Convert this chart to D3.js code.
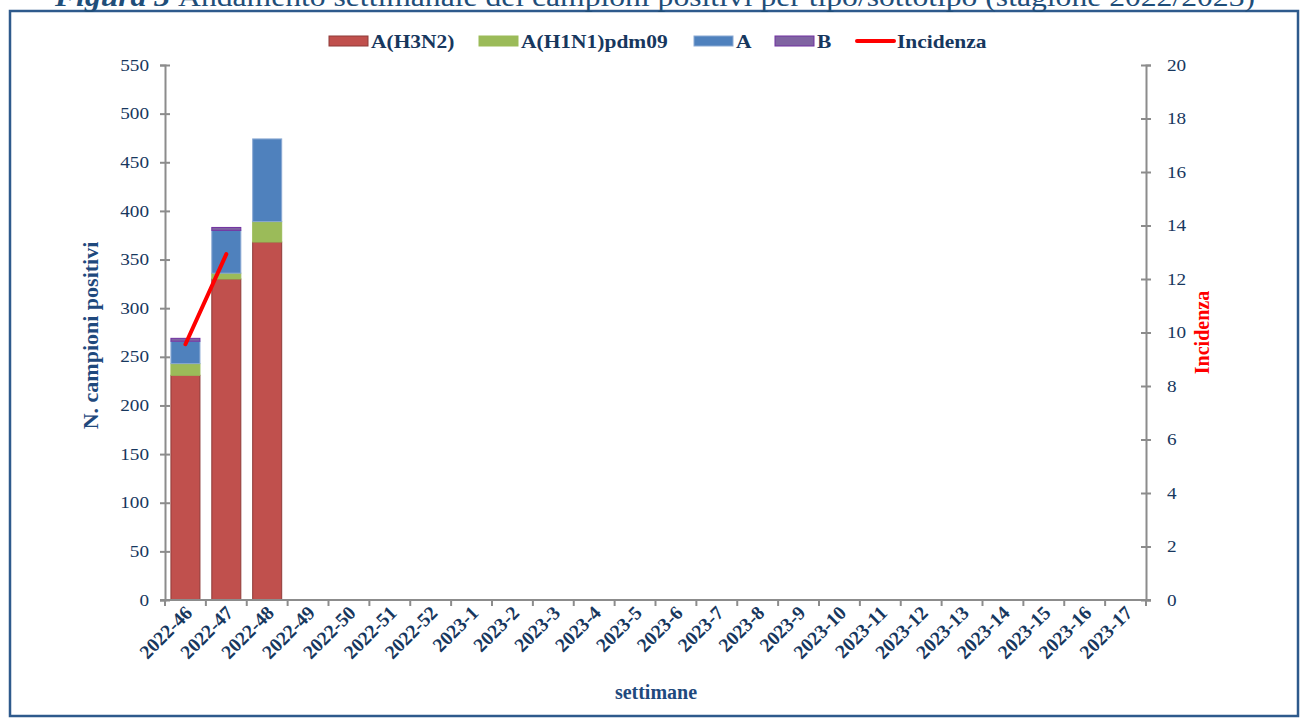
<!DOCTYPE html>
<html><head><meta charset="utf-8">
<script src="https://cdn.jsdelivr.net/npm/d3@7"></script>
<style>
html,body{margin:0;padding:0;background:#fff;}
svg{display:block;font-family:"Liberation Serif","Times New Roman",serif;}
</style></head>
<body>
<svg id="c" width="1303" height="719"></svg>
<script>
const weeks = ["2022-46","2022-47","2022-48","2022-49","2022-50","2022-51","2022-52",
  "2023-1","2023-2","2023-3","2023-4","2023-5","2023-6","2023-7","2023-8","2023-9",
  "2023-10","2023-11","2023-12","2023-13","2023-14","2023-15","2023-16","2023-17"];
const h3n2 = [231, 330, 368];
const h1n1 = [12, 6, 21];
const aNs  = [23, 44, 85];
const bVals = [3, 3, 0];
const incidenza = [9.56, 12.93];
const leftTicks = [0,50,100,150,200,250,300,350,400,450,500,550];
const rightTicks = [0,2,4,6,8,10,12,14,16,18,20];
const seriesNames = ["A(H3N2)","A(H1N1)pdm09","A","B"];
const seriesColors = ["#C0504D","#9BBB59","#4F81BD","#8064A2"];
const seriesStroke = ["#8E3B38","#9BBB59","#8AA9D3","#7030A0"];

const svg = d3.select("#c");
const txtCol = "#17375E";
const axisCol = "#8C8C8C";

function stretch(sel, k){
  sel.each(function(){
    const len = this.getComputedTextLength();
    d3.select(this).attr("textLength", len*k).attr("lengthAdjust","spacingAndGlyphs");
  });
}

// frame
svg.append("rect").attr("x",10).attr("y",11).attr("width",1288).attr("height",705)
  .attr("fill","none").attr("stroke","#2E5A8C").attr("stroke-width",2.5);

// title (partially cut at top, as in the reference)
const title = svg.append("text").attr("x",655).attr("y",6).attr("text-anchor","middle")
  .attr("font-size",28).attr("fill","#1F4E79");
title.append("tspan").attr("font-weight","bold").attr("font-style","italic").text("Figura 3 ");
title.append("tspan").text("Andamento settimanale dei campioni positivi per tipo/sottotipo (stagione 2022/2023)");
title.attr("textLength",1200).attr("lengthAdjust","spacingAndGlyphs");

const L = 165, R = 1146, T = 65, B = 600;
const x = d3.scaleBand().domain(weeks).range([L,R]).paddingInner(0.29).paddingOuter(0.145);
const xb = d3.scaleBand().domain(weeks).range([L,R]).padding(0);
const yL = d3.scaleLinear().domain([0,550]).range([B,T]);
const yR = d3.scaleLinear().domain([0,20]).range([B,T]);

// stacked data
const rows = weeks.map((w,i)=>({week:w, s0:h3n2[i]||0, s1:h1n1[i]||0, s2:aNs[i]||0, s3:bVals[i]||0}));
const stack = d3.stack().keys(["s0","s1","s2","s3"])(rows);
const g = svg.append("g");
stack.forEach((layer,li)=>{
  g.selectAll(null).data(layer.filter(d=>d[1]-d[0]>0)).enter().append("rect")
    .attr("x",d=>x(d.data.week)).attr("width",x.bandwidth())
    .attr("y",d=>yL(d[1])).attr("height",d=>yL(d[0])-yL(d[1]))
    .attr("fill",seriesColors[li]).attr("stroke",seriesStroke[li]).attr("stroke-width",1);
});

// left axis
const axL = svg.append("g").attr("transform",`translate(${L},0)`)
  .call(d3.axisLeft(yL).tickValues(leftTicks).tickSize(5).tickPadding(11));
axL.select(".domain").attr("stroke",axisCol).attr("stroke-width",2);
axL.selectAll(".tick line").attr("stroke",axisCol).attr("stroke-width",2).attr("x2",5).attr("x1",-5);
axL.selectAll(".tick text").attr("fill",txtCol).attr("font-size",16).attr("font-family","Liberation Serif");
stretch(axL.selectAll(".tick text"),1.2);

// right axis
const axR = svg.append("g").attr("transform",`translate(${R},0)`)
  .call(d3.axisRight(yR).tickValues(rightTicks).tickSize(5).tickPadding(16));
axR.select(".domain").attr("stroke",axisCol).attr("stroke-width",2);
axR.selectAll(".tick line").attr("stroke",axisCol).attr("stroke-width",2).attr("x1",-5).attr("x2",5);
axR.selectAll(".tick text").attr("fill",txtCol).attr("font-size",16).attr("font-family","Liberation Serif");
stretch(axR.selectAll(".tick text"),1.2);

// bottom axis
const axB = svg.append("g").attr("transform",`translate(0,${B})`)
  .call(d3.axisBottom(x).tickSize(0).tickFormat(""));
axB.select(".domain").remove();
svg.append("line").attr("x1",L-5).attr("x2",R+5).attr("y1",B).attr("y2",B)
  .attr("stroke",axisCol).attr("stroke-width",2);
svg.append("g").selectAll("line").data(weeks.concat(["__end"])).enter().append("line")
  .attr("x1",(d,i)=>i<weeks.length?xb(d):R).attr("x2",(d,i)=>i<weeks.length?xb(d):R)
  .attr("y1",B).attr("y2",B+6).attr("stroke",axisCol).attr("stroke-width",2);
axB.selectAll(".tick text").remove();
axB.selectAll(".tick").append("text")
  .attr("transform","translate(8,14) rotate(-45)")
  .attr("text-anchor","end").attr("fill",txtCol).attr("font-size",19.5).attr("font-weight","bold")
  .attr("font-family","Liberation Serif")
  .text(d=>d);

// incidence line
const lineData = weeks.map((w,i)=>({week:w, v:incidenza[i]}));
const line = d3.line().defined(d=>d.v!=null).x(d=>x(d.week)+x.bandwidth()/2).y(d=>yR(d.v));
svg.append("path").datum(lineData).attr("d",line).attr("fill","none")
  .attr("stroke","#FF0000").attr("stroke-width",4).attr("stroke-linecap","round");

// axis titles
svg.append("text").attr("transform",`translate(98,${(T+B)/2+3}) rotate(-90)`).attr("text-anchor","middle")
  .attr("font-size",22).attr("font-weight","bold").attr("fill","#1F497D").text("N. campioni positivi");
svg.append("text").attr("transform",`translate(1209,${(T+B)/2}) rotate(-90)`).attr("text-anchor","middle")
  .attr("font-size",20).attr("font-weight","bold").attr("fill","#FF0000").text("Incidenza");
svg.append("text").attr("x",656).attr("y",699).attr("text-anchor","middle")
  .attr("font-size",20).attr("font-weight","bold").attr("fill","#1F497D").text("settimane");

// legend
const leg = svg.append("g").attr("font-size",19).attr("font-weight","bold").attr("fill","#17375E");
const legX = [329, 479, 694, 775];
seriesNames.forEach((n,i)=>{
  leg.append("rect").attr("x",legX[i]).attr("y",36).attr("width",39).attr("height",10)
    .attr("fill",seriesColors[i]).attr("stroke",seriesStroke[i]).attr("stroke-width",1);
  leg.append("text").attr("x",legX[i]+42).attr("y",48).text(n);
});
leg.append("line").attr("x1",857).attr("x2",894).attr("y1",41).attr("y2",41)
  .attr("stroke","#FF0000").attr("stroke-width",4).attr("stroke-linecap","round");
leg.append("text").attr("x",897).attr("y",48).text("Incidenza");
stretch(leg.selectAll("text"),1.13);
</script>
</body></html>
